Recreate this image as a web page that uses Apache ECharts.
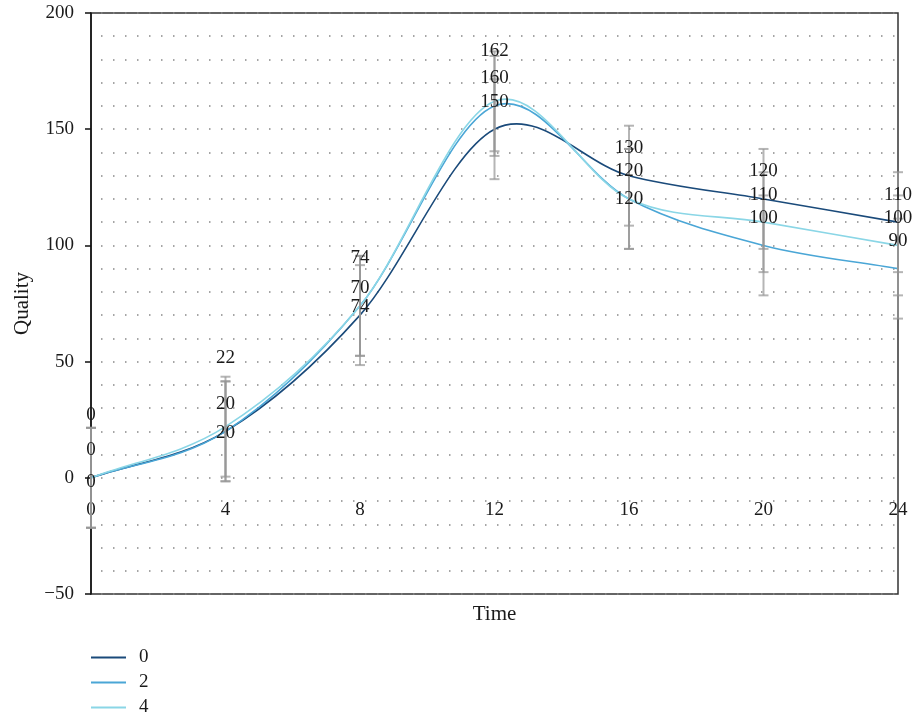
<!DOCTYPE html>
<html>
<head>
<meta charset="utf-8">
<script src="https://cdn.jsdelivr.net/npm/echarts@6/dist/echarts.min.js"></script>
<style>html,body{margin:0;padding:0;background:#fff}#c{width:914px;height:718px}</style>
</head>
<body>
<div id="c"></div>
<script>
const times = [0, 4, 8, 12, 16, 20, 24];
const seriesNames = ['0', '2', '4'];
const values0 = [0, 20, 70, 150, 130, 120, 110];
const values2 = [0, 20, 74, 160, 120, 100, 90];
const values4 = [0, 22, 74, 162, 120, 110, 100];
const err0 = [21.5, 21.5, 21.5, 21.5, 21.5, 21.5, 21.5];
const err2 = [21.5, 21.5, 21.5, 21.5, 21.5, 21.5, 21.5];
const err4 = [21.5, 21.5, 21.5, 21.5, 21.5, 21.5, 21.5];
const yTicks = [-50, 0, 50, 100, 150, 200];
const xTicks = [0, 4, 8, 12, 16, 20, 24];

// label vertical nudges (pixels) to keep overlapping value labels apart, as in the reference
const labelShift0 = [-35, 0, 0, 0, 0, 0, 0];
const labelShift2 = [0, 29, -20, 0, 0, 0, 0];
const labelShift4 = [32, -41, 29, -23, 28, 0, 0];

const colors = ['#1a4a7a', '#4aa6d6', '#8ad6e6'];
const FONT = 'Liberation Serif';
const allValues = [values0, values2, values4];
const allErr = [err0, err2, err4];
const allShift = [labelShift0, labelShift2, labelShift4];

const GRID = {left: 91, right: 16, top: 13, bottom: 124};
const plotH = 718 - GRID.top - GRID.bottom;
const yMin = yTicks[0], yMax = yTicks[yTicks.length - 1];
// the x axis sits on y = 0
const xAxisOffset = -((0 - yMin) / (yMax - yMin)) * plotH;

const chart = echarts.init(document.getElementById('c'));

function errRender(params, api) {
  const x = api.value(0), lo = api.value(1), hi = api.value(2);
  const p1 = api.coord([x, hi]), p2 = api.coord([x, lo]);
  const w = 5;
  const st = {stroke: 'rgba(150,150,150,0.7)', lineWidth: 2};
  return {type: 'group', children: [
    {type: 'line', shape: {x1: p1[0], y1: p1[1], x2: p2[0], y2: p2[1]}, style: st},
    {type: 'line', shape: {x1: p1[0] - w, y1: p1[1], x2: p1[0] + w, y2: p1[1]}, style: st},
    {type: 'line', shape: {x1: p2[0] - w, y1: p2[1], x2: p2[0] + w, y2: p2[1]}, style: st}
  ]};
}

// Catmull-Rom curve segment between consecutive data points (through the axes' own coordinate mapping)
function splineRender(vals, color) {
  return function (params, api) {
    const i = params.dataIndex;
    const n = times.length;
    if (i >= n - 1) return null;
    const P = j => api.coord([times[j], vals[j]]);
    const p1 = P(i), p2 = P(i + 1);
    const p0 = i > 0 ? P(i - 1) : [2 * p1[0] - p2[0], 2 * p1[1] - p2[1]];
    const p3 = i + 2 < n ? P(i + 2) : [2 * p2[0] - p1[0], 2 * p2[1] - p1[1]];
    return {
      type: 'bezierCurve',
      shape: {
        x1: p1[0], y1: p1[1], x2: p2[0], y2: p2[1],
        cpx1: p1[0] + (p2[0] - p0[0]) / 6, cpy1: p1[1] + (p2[1] - p0[1]) / 6,
        cpx2: p2[0] - (p3[0] - p1[0]) / 6, cpy2: p2[1] - (p3[1] - p1[1]) / 6
      },
      style: {stroke: color, lineWidth: 1.6, fill: null}
    };
  };
}

const curveSeries = allValues.map((vals, k) => ({
  name: 'curve' + seriesNames[k],
  type: 'custom',
  renderItem: splineRender(vals, colors[k]),
  data: times.map((t, i) => [t, vals[i]]),
  z: 3,
  silent: true
}));

const labelSeries = allValues.map((vals, k) => ({
  name: seriesNames[k],
  type: 'line',
  data: times.map((t, i) => ({value: [t, vals[i]], label: {offset: [0, allShift[k][i]]}})),
  symbol: 'circle',
  symbolSize: 0,
  showSymbol: true,
  color: colors[k],
  itemStyle: {color: colors[k]},
  lineStyle: {width: 1.6, color: colors[k], opacity: 0},
  label: {show: true, position: 'top', distance: 18, color: '#1a1a1a', fontFamily: FONT, fontSize: 19},
  z: 5
}));

const errSeries = allValues.map((vals, k) => ({
  name: 'err' + seriesNames[k],
  type: 'custom',
  renderItem: errRender,
  data: times.map((t, i) => [t, vals[i] - allErr[k][i], vals[i] + allErr[k][i]]),
  z: 4,
  silent: true
}));

chart.setOption({
  animation: false,
  color: colors,
  grid: {left: GRID.left, right: GRID.right, top: GRID.top, bottom: GRID.bottom,
    show: true, borderColor: '#333', borderWidth: 1.5, containLabel: false, outerBoundsMode: 'none'},
  xAxis: [{
    type: 'value', min: xTicks[0], max: xTicks[xTicks.length - 1], interval: 4,
    position: 'bottom', offset: xAxisOffset,
    axisLine: {show: false, onZero: false},
    axisTick: {show: false},
    splitLine: {show: false},
    axisLabel: {margin: 23, color: '#1a1a1a', fontFamily: FONT, fontSize: 19},
    name: 'Time', nameLocation: 'middle', nameGap: 126,
    nameTextStyle: {color: '#1a1a1a', fontFamily: FONT, fontSize: 21}
  }],
  yAxis: [{
    type: 'value', min: yMin, max: yMax, interval: 50,
    axisLine: {show: true, onZero: false, lineStyle: {color: '#111', width: 1.5}},
    axisTick: {show: true, inside: false, length: 6, lineStyle: {color: '#111', width: 1.5}},
    splitLine: {show: false},
    axisLabel: {margin: 17, color: '#1a1a1a', fontFamily: FONT, fontSize: 19,
      formatter: v => (v < 0 ? '\u2212' + Math.abs(v) : String(v))},
    name: 'Quality', nameLocation: 'middle', nameGap: 57, nameRotate: 90,
    nameTextStyle: {color: '#1a1a1a', fontFamily: FONT, fontSize: 21}
  }, {
    type: 'value', min: yMin, max: yMax, interval: 10,
    axisLine: {show: false, onZero: false}, axisTick: {show: false}, axisLabel: {show: false},
    splitLine: {show: true, lineStyle: {type: [1.5, 10.5], color: '#888', width: 1.5, dashOffset: -10}}
  }],
  legend: {
    data: seriesNames,
    orient: 'vertical', left: 91, top: 648, padding: 0,
    icon: 'rect', itemWidth: 35, itemHeight: 2, itemGap: 6,
    textStyle: {color: '#1a1a1a', fontFamily: FONT, fontSize: 19, padding: [0, 0, 0, 8]}
  },
  series: [...errSeries, ...curveSeries, ...labelSeries]
});
</script>
</body>
</html>
